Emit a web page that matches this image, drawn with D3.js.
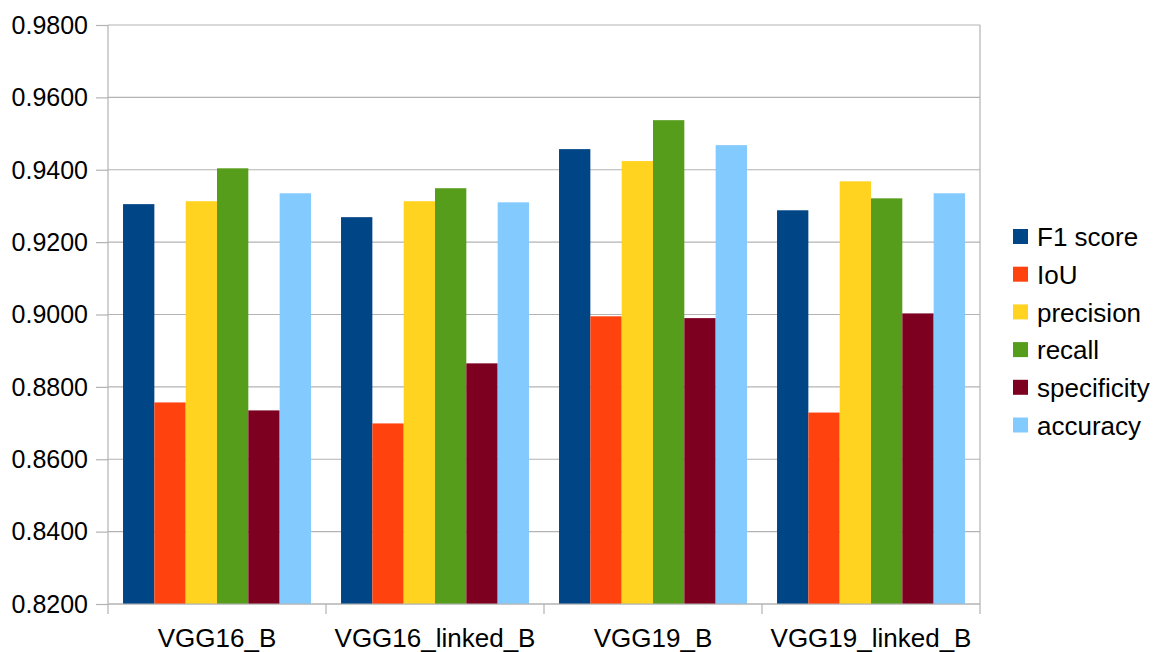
<!DOCTYPE html>
<html>
<head>
<meta charset="utf-8">
<script src="https://cdn.jsdelivr.net/npm/d3@7"></script>
<style>
  html, body { margin: 0; padding: 0; background: #fff; }
  svg { display: block; font-family: "Liberation Sans", Arial, sans-serif; }
</style>
</head>
<body>
<svg id="chart" width="1160" height="652"></svg>
<script>
// Model variants on the x axis
const categories = ["VGG16_B", "VGG16_linked_B", "VGG19_B", "VGG19_linked_B"];

// Metric series (one value per model)
const seriesNames = ["F1 score", "IoU", "precision", "recall", "specificity", "accuracy"];
const f1Score     = [0.9305, 0.9269, 0.9457, 0.9288];
const iou         = [0.8757, 0.8699, 0.8995, 0.8729];
const precision   = [0.9313, 0.9313, 0.9424, 0.9368];
const recall      = [0.9404, 0.9349, 0.9537, 0.9321];
const specificity = [0.8735, 0.8865, 0.8990, 0.9003];
const accuracy    = [0.9335, 0.9310, 0.9468, 0.9335];

const yTicks = [0.82, 0.84, 0.86, 0.88, 0.90, 0.92, 0.94, 0.96, 0.98];

const seriesValues = [f1Score, iou, precision, recall, specificity, accuracy];
const colors = ["#004586", "#ff420e", "#ffd320", "#579d1c", "#7e0021", "#83caff"];

const svg = d3.select("#chart");
const plot = { left: 108, right: 980, top: 25, bottom: 604 };

const x0 = d3.scaleBand().domain(categories).range([plot.left, plot.right]).padding(0);
const x1 = d3.scaleBand().domain(seriesNames).range([0, x0.bandwidth()])
  .paddingInner(0).paddingOuter(0.48);
const y = d3.scaleLinear().domain([0.82, 0.98]).range([plot.bottom, plot.top]);

const gridColor = "#b3b3b3";

// Horizontal gridlines
svg.append("g").selectAll("line").data(yTicks).join("line")
  .attr("x1", plot.left).attr("x2", plot.right)
  .attr("y1", d => y(d)).attr("y2", d => y(d))
  .attr("stroke", gridColor).attr("stroke-width", 1.2);

// Right border of the plot area
svg.append("line")
  .attr("x1", plot.right).attr("x2", plot.right)
  .attr("y1", plot.top).attr("y2", plot.bottom)
  .attr("stroke", gridColor).attr("stroke-width", 1.2);

// Bars
const groups = svg.append("g").selectAll("g").data(categories).join("g")
  .attr("transform", c => `translate(${x0(c)},0)`);

groups.selectAll("rect")
  .data((c, ci) => seriesNames.map((s, si) => ({ s, si, v: seriesValues[si][ci] })))
  .join("rect")
  .attr("x", d => x1(d.s))
  .attr("width", x1.bandwidth())
  .attr("y", d => y(d.v))
  .attr("height", d => y(0.82) - y(d.v))
  .attr("fill", d => colors[d.si]);

// Y axis
const yAxis = d3.axisLeft(y).tickValues(yTicks).tickFormat(d3.format(".4f"))
  .tickSize(12).tickPadding(8);
const gy = svg.append("g").attr("transform", `translate(${plot.left},0)`).call(yAxis);
gy.select(".domain").attr("stroke", gridColor).attr("stroke-width", 1.2)
  .attr("d", `M0,${plot.top}V${plot.bottom}`);
gy.selectAll(".tick line").attr("stroke", gridColor).attr("stroke-width", 1.2);
gy.selectAll(".tick text").attr("font-size", 25).attr("fill", "#000")
  .attr("dy", "0.33em");

// X axis: ticks on category boundaries
const boundaries = categories.map(c => x0(c)).concat([plot.right]);
svg.append("line")
  .attr("x1", plot.left).attr("x2", plot.right)
  .attr("y1", plot.bottom).attr("y2", plot.bottom)
  .attr("stroke", gridColor).attr("stroke-width", 1.2);
svg.append("g").selectAll("line").data(boundaries).join("line")
  .attr("x1", d => d).attr("x2", d => d)
  .attr("y1", plot.bottom).attr("y2", plot.bottom + 10)
  .attr("stroke", gridColor).attr("stroke-width", 1.2);
svg.append("g").selectAll("text").data(categories).join("text")
  .attr("x", c => x0(c) + x0.bandwidth() / 2)
  .attr("y", 647)
  .attr("text-anchor", "middle")
  .attr("font-size", 26)
  .attr("fill", "#000")
  .text(c => c);

// Legend
const legend = svg.append("g").selectAll("g").data(seriesNames).join("g")
  .attr("transform", (d, i) => `translate(1013,${237 + i * 37.7})`);
legend.append("rect")
  .attr("x", 0).attr("y", -8).attr("width", 15).attr("height", 15)
  .attr("fill", (d, i) => colors[i]);
legend.append("text")
  .attr("x", 24).attr("y", 0).attr("dy", "0.35em")
  .attr("font-size", 26).attr("fill", "#000")
  .text(d => d);
</script>
</body>
</html>
